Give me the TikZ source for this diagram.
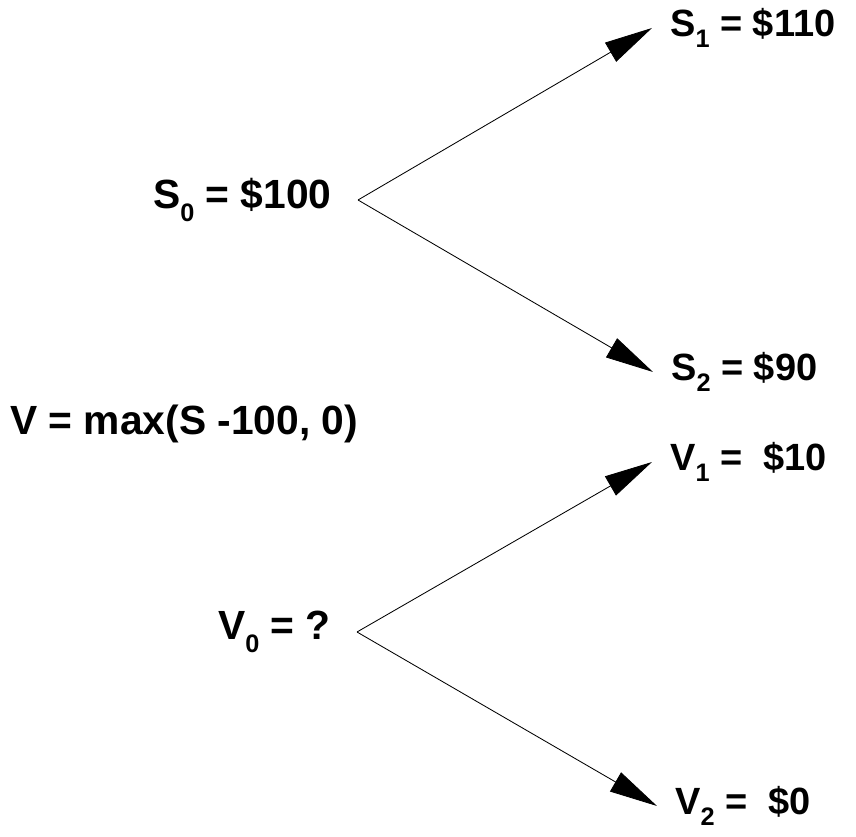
\documentclass[tikz,border=0pt]{standalone}
\usepackage{fontspec}
\setmainfont{Liberation Sans}
\usetikzlibrary{arrows.meta}

\newcommand{\sub}[1]{\raisebox{-0.3em}{\fontsize{18}{18}\selectfont #1}}

\tikzset{
  lbl/.style={font=\bfseries\fontsize{29}{33}\selectfont, inner ysep=0pt},
  root/.style={lbl, anchor=east, inner xsep=0.65cm},
  leaf/.style={lbl, font=\bfseries\fontsize{27}{31}\selectfont, anchor=west, inner xsep=0.45cm},
  branch/.style={-{Triangle[length=1.2cm,width=0.55cm]}, line width=0.6pt}
}

\begin{document}
\begin{tikzpicture}[scale=1]
\useasboundingbox (0,0) rectangle (21.4,20.9);
\coordinate (s) at (8.95,15.9);
\coordinate (v) at (8.925,5.1);

% stock tree
\node[root] (s0) at (s) {S\sub{0} = \$100};
\node[leaf] (s1) at (16.3,20.2) {S\sub{1} = \$110};
\node[leaf] (s2) at (16.325,11.6) {S\sub{2} = \$90};
\draw[branch] (s0.east) -- (s1.west);
\draw[branch] (s0.east) -- (s2.west);

\node[lbl, anchor=west, inner xsep=0pt] (pay) at (0.25,10.3) {V = max(S -100, 0)};

% option tree
\node[root] (v0) at (v) {V\sub{0} = ?};
\node[leaf] (v1) at (16.3,9.35) {V\sub{1} = \ \$10};
\node[leaf] (v2) at (16.425,0.75) {V\sub{2} = \ \$0};
\draw[branch] (v0.east) -- (v1.west);
\draw[branch] (v0.east) -- (v2.west);

\end{tikzpicture}
\end{document}
